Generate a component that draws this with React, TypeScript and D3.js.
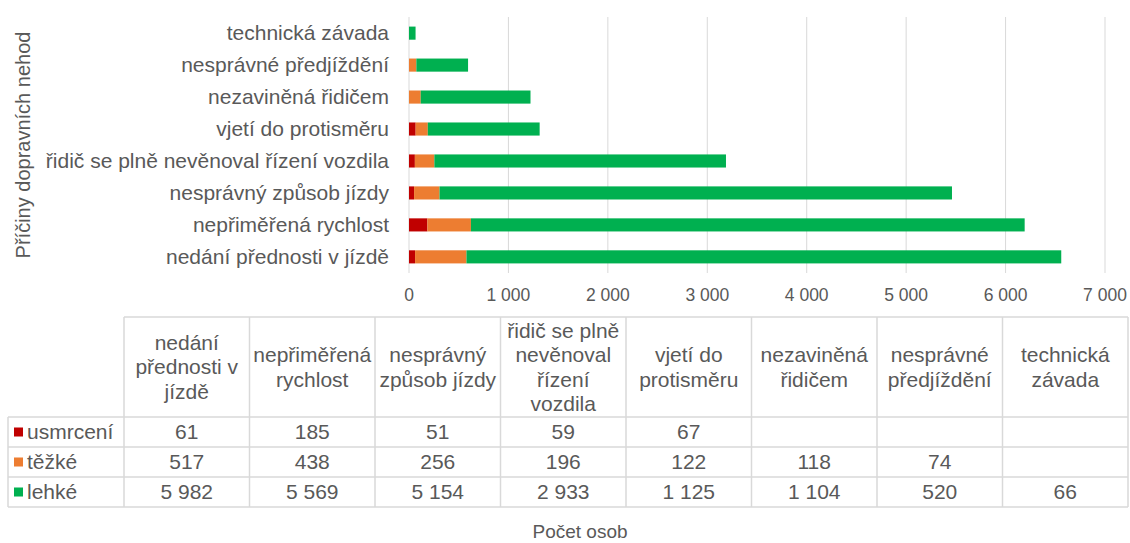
import React from "react";
import * as d3 from "d3";

const categories = [
  "nedání přednosti v jízdě",
  "nepřiměřená rychlost",
  "nesprávný způsob jízdy",
  "řidič se plně nevěnoval řízení vozdila",
  "vjetí do protisměru",
  "nezaviněná řidičem",
  "nesprávné předjíždění",
  "technická závada",
];

// header cells of the table, as they wrap in the reference
const headerLines = [
  ["nedání", "přednosti v", "jízdě"],
  ["nepřiměřená", "rychlost"],
  ["nesprávný", "způsob jízdy"],
  ["řidič se plně", "nevěnoval", "řízení", "vozdila"],
  ["vjetí do", "protisměru"],
  ["nezaviněná", "řidičem"],
  ["nesprávné", "předjíždění"],
  ["technická", "závada"],
];

const usmrceni = [61, 185, 51, 59, 67, null, null, null];
const tezke = [517, 438, 256, 196, 122, 118, 74, null];
const lehke = [5982, 5569, 5154, 2933, 1125, 1104, 520, 66];

const seriesNames = ["usmrcení", "těžké", "lehké"];
const seriesColors = ["#C00000", "#ED7D31", "#00B050"];
const xTicks = [0, 1000, 2000, 3000, 4000, 5000, 6000, 7000];

const FONT = "'Liberation Sans', Arial, sans-serif";
const TEXT = "#595959";
const GRID = "#d9d9d9";

const fmt = (v: number) => d3.format(",")(v).replace(/,/g, " ");

export default function App() {
  const width = 1130;
  const height = 543;

  const rows = categories.map((c, i) => ({
    cat: c,
    usmrceni: usmrceni[i] ?? 0,
    tezke: tezke[i] ?? 0,
    lehke: lehke[i] ?? 0,
  }));
  const keys = ["usmrceni", "tezke", "lehke"];
  const series = d3.stack<any>().keys(keys)(rows);

  const x = d3.scaleLinear().domain([0, 7000]).range([409, 1105]);
  const y = d3
    .scaleBand()
    .domain([...categories].reverse())
    .range([17, 273])
    .paddingInner(0.59)
    .paddingOuter(0.3);

  // table layout
  const tableLeft = 8;
  const firstColW = 116;
  const colW = (1128 - (tableLeft + firstColW)) / categories.length;
  const tableTop = 317;
  const headerH = 100;
  const rowH = 30;
  const colX = (i: number) => tableLeft + firstColW + i * colW;
  const tableValues = [usmrceni, tezke, lehke];

  return (
    <svg
      width={width}
      height={height}
      style={{ position: "absolute", left: 0, top: 0, fontFamily: FONT }}
    >
      {/* gridlines */}
      {xTicks.slice(1).map((t) => (
        <line key={t} x1={x(t)} x2={x(t)} y1={17} y2={273} stroke={GRID} strokeWidth={1} />
      ))}
      <line x1={x(0)} x2={x(0)} y1={17} y2={273} stroke={GRID} strokeWidth={1} />

      {/* bars */}
      {series.map((s, si) => (
        <g key={s.key} fill={seriesColors[si]}>
          {s.map((d, i) =>
            d[1] - d[0] > 0 ? (
              <rect
                key={i}
                x={x(d[0])}
                width={x(d[1]) - x(d[0])}
                y={y(d.data.cat)}
                height={y.bandwidth()}
              />
            ) : null
          )}
        </g>
      ))}

      {/* category labels */}
      {categories.map((c) => (
        <text
          key={c}
          x={389}
          y={(y(c) ?? 0) + y.bandwidth() / 2}
          dy="0.35em"
          textAnchor="end"
          fontSize={21}
          fill={TEXT}
        >
          {c}
        </text>
      ))}

      {/* x ticks */}
      {xTicks.map((t) => (
        <text key={t} x={x(t)} y={301} textAnchor="middle" fontSize={17.5} fill={TEXT}>
          {fmt(t)}
        </text>
      ))}

      {/* y axis title */}
      <text
        transform="translate(30,145) rotate(-90)"
        textAnchor="middle"
        fontSize={20}
        fill={TEXT}
      >
        Příčiny dopravních nehod
      </text>

      {/* table grid */}
      <g stroke={GRID} strokeWidth={1.5} fill="none">
        <line x1={colX(0)} x2={1128} y1={tableTop} y2={tableTop} />
        {[0, 1, 2, 3].map((r) => (
          <line
            key={r}
            x1={tableLeft}
            x2={1128}
            y1={tableTop + headerH + r * rowH}
            y2={tableTop + headerH + r * rowH}
          />
        ))}
        <line
          x1={tableLeft}
          x2={tableLeft}
          y1={tableTop + headerH}
          y2={tableTop + headerH + 3 * rowH}
        />
        {categories.map((_, i) => (
          <line
            key={i}
            x1={colX(i)}
            x2={colX(i)}
            y1={tableTop}
            y2={tableTop + headerH + 3 * rowH}
          />
        ))}
        <line x1={1128} x2={1128} y1={tableTop} y2={tableTop + headerH + 3 * rowH} />
      </g>

      {/* header text */}
      {headerLines.map((lines, i) => {
        const cy = tableTop + headerH / 2;
        const lh = 24.5;
        const start = cy - ((lines.length - 1) * lh) / 2;
        return (
          <text key={i} textAnchor="middle" fontSize={21} fill={TEXT}>
            {lines.map((l, j) => (
              <tspan key={j} x={colX(i) + colW / 2} y={start + j * lh} dy="0.35em">
                {l}
              </tspan>
            ))}
          </text>
        );
      })}

      {/* legend rows + values */}
      {seriesNames.map((name, r) => {
        const cy = tableTop + headerH + r * rowH + rowH / 2;
        return (
          <g key={name}>
            <rect x={14} y={cy - 4.5} width={9} height={9} fill={seriesColors[r]} />
            <text x={27} y={cy} dy="0.35em" fontSize={21} fill={TEXT}>
              {name}
            </text>
            {tableValues[r].map((v, i) =>
              v == null ? null : (
                <text
                  key={i}
                  x={colX(i) + colW / 2}
                  y={cy}
                  dy="0.35em"
                  textAnchor="middle"
                  fontSize={21}
                  fill={TEXT}
                >
                  {fmt(v)}
                </text>
              )
            )}
          </g>
        );
      })}

      {/* x axis title */}
      <text x={580} y={531} dy="0.35em" textAnchor="middle" fontSize={19} fill={TEXT}>
        Počet osob
      </text>
    </svg>
  );
}
